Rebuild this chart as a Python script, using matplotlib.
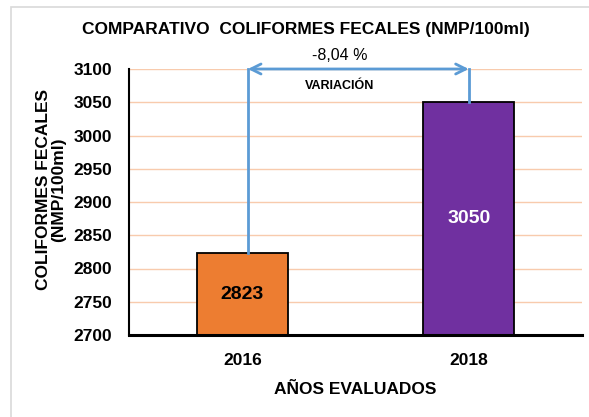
import matplotlib
matplotlib.use("Agg")
import matplotlib.pyplot as plt
from matplotlib.patches import Rectangle

plt.rcParams['font.family'] = ['Liberation Sans', 'DejaVu Sans']

years = ["2016", "2018"]
values = [2823, 3050]
bar_colors = ["#ED7D31", "#7030A0"]
label_colors = ["black", "white"]
yticks = [2700, 2750, 2800, 2850, 2900, 2950, 3000, 3050, 3100]
variation_text = "-8,04 %"
variation_label = "VARIACIÓN"
title = "COMPARATIVO  COLIFORMES FECALES (NMP/100ml)"
ylabel = "COLIFORMES FECALES\n(NMP/100ml)"
xlabel = "AÑOS EVALUADOS"

fig = plt.figure(figsize=(5.89, 4.17), dpi=100)
fig.patches.append(Rectangle((11/589, -0.1), 1.2, 1 - 7/417 + 0.1,
                             transform=fig.transFigure, fill=False,
                             edgecolor="#D9D9D9", linewidth=1.2, zorder=0))
ax = fig.add_axes([129/589, 1 - 335/417, (582-129)/589, (335-69)/417])

x = list(range(len(years)))
ax.bar(x, values, width=0.40, color=bar_colors, edgecolor="black",
       linewidth=1.3, zorder=3)
ax.set_ylim(2700, 3100)
ax.set_xlim(-0.5, 1.5)
ax.set_yticks(yticks)
ax.set_xticks(x)
ax.set_xticklabels(years)
ax.grid(axis="y", color="#F8CBAD", linewidth=1.0, zorder=0)
ax.set_axisbelow(True)
for s in ["top", "right"]:
    ax.spines[s].set_visible(False)
ax.spines["left"].set_linewidth(1.5)
ax.spines["bottom"].set_linewidth(2.2)
ax.spines["left"].set_zorder(4)
ax.spines["bottom"].set_zorder(4)
ax.tick_params(length=0, labelsize=12.5)
ax.tick_params(axis="y", pad=12)
ax.tick_params(axis="x", pad=13)
for lab in ax.get_xticklabels() + ax.get_yticklabels():
    lab.set_fontweight("bold")

for xi, v, c in zip(x, values, label_colors):
    ax.text(xi, (2700 + v) / 2, str(v), ha="center", va="center",
            fontsize=14, fontweight="bold", color=c, zorder=5)

# variation bracket
arrow_col = "#5B9BD5"
lx = x[0] + 0.025
rx = x[1]
top = yticks[-1]
ax.plot([lx, lx], [values[0], top], color=arrow_col, lw=2, zorder=4, clip_on=False)
ax.plot([rx, rx], [values[1], top], color=arrow_col, lw=2, zorder=4, clip_on=False)
ax.annotate("", xy=(rx, top), xytext=(lx, top),
            arrowprops=dict(arrowstyle="<->", color=arrow_col, lw=2,
                            mutation_scale=18, shrinkA=0, shrinkB=0),
            annotation_clip=False, zorder=4)
ax.text(0.43, top + 9, variation_text, ha="center", va="bottom",
        fontsize=11.5, zorder=5)
ax.text(0.43, top - 26, variation_label, ha="center", va="center",
        fontsize=9, fontweight="bold", zorder=5)

fig.text(306/589, 1 - 29.5/417, title, ha="center", va="center",
         fontsize=12.5, fontweight="bold")
ax.set_ylabel(ylabel, fontsize=12.5, fontweight="bold", linespacing=1.0)
ax.yaxis.set_label_coords((66 - 129) / 453, (335 - 190) / 266)
ax.set_xlabel(xlabel, fontsize=12.5, fontweight="bold", labelpad=10)

fig.savefig("out.png", dpi=100)
